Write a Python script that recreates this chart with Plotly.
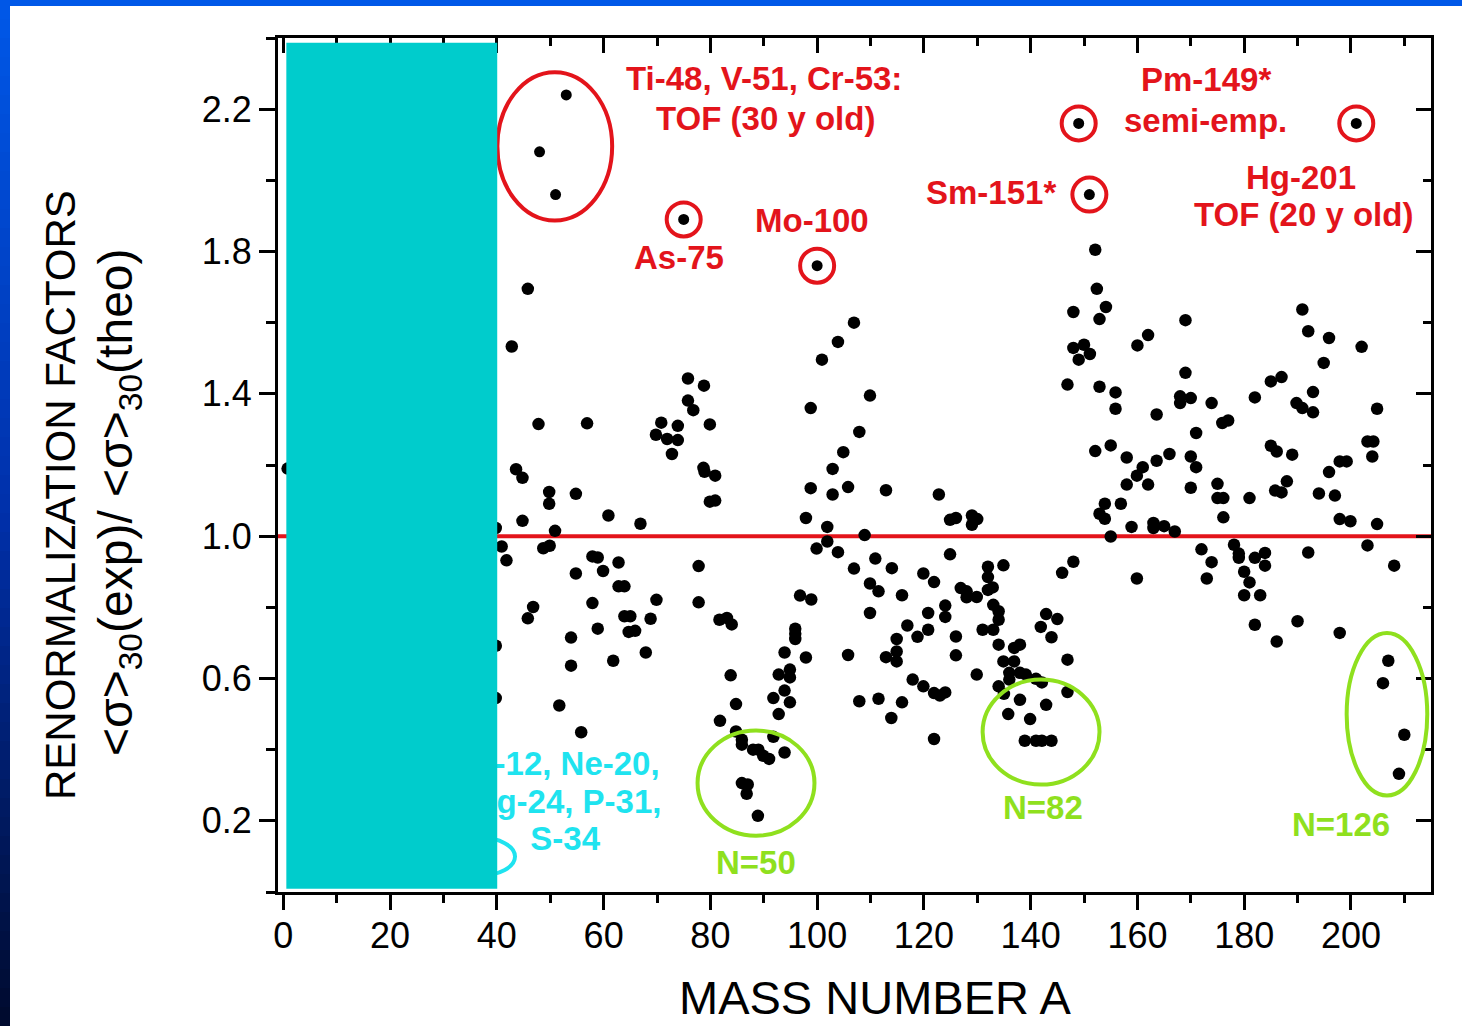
import plotly.graph_objects as go

# ---- data: renormalization factor <sigma>30(exp)/<sigma>30(theo) versus mass number A ----
mass_number = [
    0.8, 39.8, 39.8, 39.8,
    45.8, 42.8, 47.8, 56.9, 70.8, 73.9, 69.8, 71.9, 73.9, 72.8, 75.8, 78.8, 75.8, 76.8, 79.9, 78.7,
    78.9, 80.9, 79.9, 80.9,
    43.6, 44.8, 49.8, 49.8, 54.8, 44.8, 60.9, 66.9, 50.9, 40.9, 41.8, 48.7, 49.9, 57.9, 58.9, 62.8,
    54.8, 59.9, 77.8,
    46.8, 45.8, 57.9, 62.8, 63.9, 69.9, 77.8, 63.9, 65.0, 68.8, 58.9, 64.7, 65.9, 53.9, 67.9, 61.8,
    53.9, 51.7, 55.8,
    81.7, 83.1, 84.0, 83.8, 84.8, 81.8, 84.8, 85.9, 85.9, 88.0, 89.0, 89.9, 91.0, 85.9, 87.0, 86.8,
    88.9, 93.9, 91.8, 92.8, 91.8, 94.9, 93.9, 92.8, 94.9, 94.9, 93.9, 97.9, 95.9, 95.9, 95.9, 96.8,
    98.9,
    98.8, 100.9, 103.9, 106.9, 109.9, 107.9, 104.9, 102.9, 98.8, 102.9, 105.8, 97.9, 101.9, 108.9,
    101.9, 99.9, 103.9, 106.9, 110.9, 109.9, 111.5, 109.9, 105.8, 107.9, 111.5, 112.9, 114.0,
    115.9, 119.9, 121.9, 126.9, 128.0, 128.0, 129.9, 132.0, 132.0, 132.0, 132.9, 134.9, 145.9, 148.0,
    124.9, 122.8, 124.9, 126.0, 129.0, 130.0, 129.0,
    124.0, 124.0, 120.8, 116.9, 120.8, 118.8, 114.9, 114.9, 114.9, 112.9, 126.0, 126.0, 133.0, 134.0,
    134.0, 131.0, 133.0, 134.0, 136.9, 138.0, 134.9, 136.9, 129.9, 136.0, 136.0, 138.0, 139.1, 141.0,
    142.1, 134.0, 135.0, 138.0, 142.9, 135.8, 139.9, 138.9, 141.0, 142.1, 143.9, 142.9, 145.0, 141.9,
    143.9, 146.9, 146.9, 117.9, 119.9, 121.9, 123.0, 124.0, 115.9, 113.9, 121.9,
    152.1, 152.4, 154.1, 152.9, 148.0, 148.0, 150.0, 151.1, 149.0, 146.9, 152.9, 155.9, 155.9, 160.0,
    162.0, 163.6, 152.1, 155.0, 158.0, 161.0, 159.9, 158.0, 162.0, 163.6, 153.9, 152.9, 153.9, 156.9,
    158.9, 163.0, 163.0, 155.0, 159.9,
    169.0, 169.0, 168.0, 168.0, 170.0, 173.9, 171.0, 175.9, 177.0, 182.0, 185.0, 187.0, 190.9, 192.0,
    195.9, 194.9, 202.0, 189.8, 190.9, 192.9, 192.9, 204.9,
    166.0, 170.0, 171.0, 170.0, 175.0, 175.0, 176.1, 176.1, 181.0, 185.0, 186.1, 189.0, 188.0, 185.8,
    187.0, 194.0, 197.0, 195.9, 197.9, 199.2, 203.1, 204.2, 204.0, 204.9, 197.9, 199.9,
    165.0, 167.0, 172.0, 173.9, 173.0, 178.1, 179.0, 179.0, 182.0, 183.9, 183.9, 180.0, 181.0, 180.0,
    183.0, 192.0, 203.1, 208.1, 182.0, 186.1, 190.0, 197.9, 207.0, 206.0, 210.0, 209.0,
]
ratio = [
    1.19, 1.023, 0.692, 0.545,
    1.695, 1.533, 1.315, 1.317, 1.319, 1.310, 1.285, 1.273, 1.270, 1.231, 1.443, 1.423, 1.381, 1.354, 1.314, 1.192,
    1.181, 1.170, 1.097, 1.100,
    1.188, 1.164, 1.124, 1.091, 1.119, 1.043, 1.058, 1.035, 1.015, 0.971, 0.932, 0.966, 0.973, 0.943, 0.940, 0.926,
    0.895, 0.902, 0.916,
    0.801, 0.769, 0.812, 0.859, 0.859, 0.821, 0.814, 0.775, 0.775, 0.768, 0.740, 0.731, 0.734, 0.715, 0.673, 0.650,
    0.636, 0.524, 0.449,
    0.765, 0.770, 0.752, 0.609, 0.528, 0.481, 0.451, 0.428, 0.414, 0.400, 0.400, 0.383, 0.374, 0.306, 0.302, 0.276,
    0.214, 0.392, 0.436, 0.500, 0.545, 0.533, 0.566, 0.611, 0.625, 0.603, 0.673, 0.659, 0.740, 0.726, 0.711, 0.833,
    0.822,
    1.360, 1.496, 1.546, 1.600, 1.395, 1.293, 1.236, 1.189, 1.135, 1.117, 1.138, 1.051, 1.026, 1.003,
    0.985, 0.965, 0.955, 0.909, 0.937, 0.867, 0.845, 0.784, 0.666, 0.536, 0.543, 1.129, 0.910,
    0.834, 0.895, 0.871, 0.854, 0.845, 0.828, 0.829, 0.914, 0.885, 0.849, 0.856, 0.918, 0.897, 0.928,
    0.949, 1.117, 1.046, 1.051, 1.058, 1.048, 1.032,
    0.805, 0.773, 0.784, 0.749, 0.737, 0.717, 0.711, 0.676, 0.648, 0.660, 0.718, 0.665, 0.807, 0.789,
    0.765, 0.737, 0.737, 0.695, 0.686, 0.695, 0.648, 0.648, 0.611, 0.616, 0.597, 0.616, 0.611, 0.599,
    0.589, 0.578, 0.557, 0.540, 0.526, 0.500, 0.486, 0.425, 0.425, 0.425, 0.425, 0.781, 0.767, 0.745,
    0.716, 0.653, 0.562, 0.597, 0.578, 0.559, 0.552, 0.561, 0.533, 0.489, 0.430,
    1.805, 1.695, 1.644, 1.610, 1.630, 1.529, 1.538, 1.512, 1.496, 1.426, 1.420, 1.404, 1.358, 1.536,
    1.565, 1.342, 1.239, 1.255, 1.221, 1.194, 1.170, 1.145, 1.145, 1.212, 1.091, 1.063, 1.049, 1.091,
    1.026, 1.037, 1.023, 0.999, 0.881,
    1.607, 1.459, 1.393, 1.374, 1.388, 1.374, 1.290, 1.318, 1.325, 1.390, 1.435, 1.447, 1.637, 1.576,
    1.557, 1.487, 1.532, 1.374, 1.360, 1.405, 1.348, 1.358,
    1.231, 1.224, 1.194, 1.136, 1.147, 1.107, 1.107, 1.053, 1.107, 1.254, 1.238, 1.229, 1.154, 1.128,
    1.123, 1.120, 1.114, 1.180, 1.210, 1.210, 1.266, 1.266, 1.224, 1.034, 1.048, 1.042,
    1.028, 1.013, 0.963, 0.927, 0.881, 0.976, 0.951, 0.939, 0.939, 0.953, 0.917, 0.900, 0.870, 0.834,
    0.834, 0.954, 0.974, 0.917, 0.751, 0.704, 0.761, 0.728, 0.650, 0.587, 0.442, 0.332,
]

# isotopes singled out in the discussion
flag_isotopes = ["Ti-48", "V-51", "Cr-53", "As-75", "Mo-100", "Pm-149", "Sm-151", "Hg-201"]
flag_mass = [48, 51, 53, 75, 100, 149, 151, 201]
flag_ratio = [2.08, 1.96, 2.24, 1.89, 1.76, 2.16, 1.96, 2.16]
circled = ["As-75", "Mo-100", "Pm-149", "Sm-151", "Hg-201"]

# axis ticks
x_ticks = [0, 20, 40, 60, 80, 100, 120, 140, 160, 180, 200]
y_ticks = [0.2, 0.6, 1.0, 1.4, 1.8, 2.2]
y_tick_labels = ["0.2", "0.6", "1.0", "1.4", "1.8", "2.2"]
reference_level = 1.0

# text labels
red_labels = ["Ti-48, V-51, Cr-53:", "TOF (30 y old)", "As-75", "Mo-100", "Sm-151*",
              "Pm-149*", "semi-emp.", "Hg-201", "TOF (20 y old)"]
red_label_x = [90.1, 90.4, 74.2, 99.1, 132.6, 172.8, 172.8, 190.6, 191.2]
red_label_y = [2.285, 2.175, 1.783, 1.887, 1.965, 2.283, 2.168, 2.007, 1.904]
shell_labels = ["N=50", "N=82", "N=126"]
shell_label_x = [88.6, 142.3, 198.1]
shell_label_y = [0.084, 0.237, 0.189]
light_labels = ["C-12, Ne-20,", "Mg-24, P-31,", "S-34"]
light_label_x = [52.8, 52.8, 52.8]
light_label_y = [0.352, 0.246, 0.141]

RED = "#E3141B"
GREEN = "#8FE01E"
CYAN = "#1FE3EF"
FONT = "Liberation Sans"

fig = go.Figure()

fig.add_trace(go.Scatter(
    x=mass_number, y=ratio, mode="markers",
    marker=dict(color="black", size=12.5, line=dict(width=0)),
    hoverinfo="skip", showlegend=False,
))
fig.add_trace(go.Scatter(
    x=flag_mass, y=flag_ratio, mode="markers", text=flag_isotopes,
    marker=dict(color="black", size=11, line=dict(width=0)),
    hoverinfo="text", showlegend=False,
))
# light-nuclei label (partly hidden under the shaded band)
fig.add_trace(go.Scatter(
    x=light_label_x, y=light_label_y, mode="text", text=["<b>%s</b>" % t for t in light_labels],
    textposition="middle center", textfont=dict(family=FONT, size=33, color=CYAN),
    xaxis="x2", yaxis="y2", hoverinfo="skip", showlegend=False,
))

shapes = []
# reference level
shapes.append(dict(type="line", xref="x", yref="y", x0=-1, x1=215, y0=reference_level, y1=reference_level,
                   line=dict(color=RED, width=4), layer="below"))
# outlier group Ti/V/Cr
shapes.append(dict(type="circle", xref="x", yref="y", x0=40.1, x1=61.6, y0=1.887, y1=2.304,
                   line=dict(color=RED, width=4), layer="above"))
# rings around individual outliers
for name, a, r in zip(flag_isotopes, flag_mass, flag_ratio):
    if name in circled:
        shapes.append(dict(type="circle", xref="x", yref="y", xsizemode="pixel", ysizemode="pixel",
                           xanchor=a, yanchor=r, x0=-17, x1=17, y0=-17, y1=17,
                           line=dict(color=RED, width=4), layer="above"))
# closed neutron shells
for x0, x1, y0, y1 in [(77.6, 99.5, 0.158, 0.454), (131.0, 152.9, 0.302, 0.597), (199.2, 214.3, 0.271, 0.728)]:
    shapes.append(dict(type="circle", xref="x", yref="y", x0=x0, x1=x1, y0=y0, y1=y1,
                       line=dict(color=GREEN, width=4), layer="above"))
# light nuclei ring
shapes.append(dict(type="circle", xref="x", yref="y", x0=30.3, x1=43.4, y0=0.046, y1=0.153,
                   line=dict(color=CYAN, width=4), layer="above"))
# shaded band over the light-mass region
shapes.append(dict(type="rect", xref="x", yref="y", x0=0.56, x1=40.07, y0=0.009, y1=2.387,
                   fillcolor="#00CCCC", line=dict(width=0), layer="above"))

# slide frame: blue strip on top, shaded strip on the left
W, H = 1462, 1026
L, R, T, B = 278, 31, 38, 134
pw, ph = W - L - R, H - T - B


def px_x(p):
    return (p - L) / pw


def px_y(p):
    return (H - B - p) / ph


shapes.append(dict(type="rect", xref="paper", yref="paper", x0=px_x(0), x1=px_x(W), y0=px_y(6), y1=px_y(0),
                   fillcolor="rgb(0,88,232)", line=dict(width=0), layer="above"))
stops = [(0, (0, 88, 232)), (513, (0, 48, 170)), (1026, (0, 10, 45))]
n_seg = 54
for i in range(n_seg):
    yt = i * H / n_seg
    yb = (i + 1) * H / n_seg
    ym = (yt + yb) / 2
    if ym <= stops[1][0]:
        f = ym / stops[1][0]
        c0, c1 = stops[0][1], stops[1][1]
    else:
        f = (ym - stops[1][0]) / (stops[2][0] - stops[1][0])
        c0, c1 = stops[1][1], stops[2][1]
    col = tuple(int(round(c0[k] + f * (c1[k] - c0[k]))) for k in range(3))
    shapes.append(dict(type="rect", xref="paper", yref="paper", x0=px_x(0), x1=px_x(10),
                       y0=px_y(yb + 0.5), y1=px_y(yt), fillcolor="rgb(%d,%d,%d)" % col,
                       line=dict(width=0), layer="above"))

annotations = []
for t, x, y in zip(red_labels, red_label_x, red_label_y):
    annotations.append(dict(text="<b>%s</b>" % t, x=x, y=y, xref="x", yref="y", showarrow=False,
                            font=dict(family=FONT, size=33, color=RED), xanchor="center", yanchor="middle"))
for t, x, y in zip(shell_labels, shell_label_x, shell_label_y):
    annotations.append(dict(text="<b>%s</b>" % t, x=x, y=y, xref="x", yref="y", showarrow=False,
                            font=dict(family=FONT, size=33, color=GREEN), xanchor="center", yanchor="middle"))
# axis titles
annotations.append(dict(text="RENORMALIZATION FACTORS", x=px_x(60), y=px_y(495), xref="paper", yref="paper",
                        showarrow=False, textangle=-90, font=dict(family=FONT, size=42, color="black"),
                        xanchor="center", yanchor="middle"))
annotations.append(dict(text="&lt;σ&gt;<sub>30</sub>(exp)/ &lt;σ&gt;<sub>30</sub>(theo)", x=px_x(119), y=px_y(502),
                        xref="paper", yref="paper", showarrow=False, textangle=-90,
                        font=dict(family=FONT, size=48, color="black"), xanchor="center", yanchor="middle"))
annotations.append(dict(text="MASS NUMBER A", x=px_x(875), y=px_y(998), xref="paper", yref="paper",
                        showarrow=False, font=dict(family=FONT, size=47, color="black"),
                        xanchor="center", yanchor="middle"))

tickfont = dict(family=FONT, size=36, color="black")
common = dict(showgrid=False, zeroline=False, tickcolor="black", tickwidth=3)

fig.update_layout(
    width=W, height=H,
    margin=dict(l=L, r=R, t=T, b=B, pad=0),
    paper_bgcolor="white", plot_bgcolor="white",
    showlegend=False,
    xaxis=dict(range=[-1, 215], tickmode="array", tickvals=x_ticks, ticks="outside", ticklen=15,
               showline=True, linewidth=3, linecolor="black", mirror=True, tickfont=tickfont,
               ticklabelstandoff=-5,
               minor=dict(tickmode="linear", tick0=0, dtick=10, ticks="outside", ticklen=8, tickwidth=3,
                          tickcolor="black", showgrid=False),
               **common),
    yaxis=dict(range=[0, 2.4], tickmode="array", tickvals=y_ticks, ticktext=y_tick_labels, ticks="outside",
               ticklen=16, showline=True, linewidth=3, linecolor="black", mirror=True, tickfont=tickfont,
               minor=dict(tickmode="linear", tick0=0, dtick=0.2, ticks="outside", ticklen=9, tickwidth=3,
                          tickcolor="black", showgrid=False),
               **common),
    xaxis2=dict(range=[-1, 215], overlaying="x", side="top", anchor="y2", tickmode="array", tickvals=x_ticks,
                ticks="inside", ticklen=15, showticklabels=False, showline=False,
                minor=dict(tickmode="linear", tick0=0, dtick=10, ticks="inside", ticklen=8, tickwidth=3,
                           tickcolor="black", showgrid=False),
                **common),
    yaxis2=dict(range=[0, 2.4], overlaying="y", side="right", anchor="x2", tickmode="array", tickvals=y_ticks,
                ticks="inside", ticklen=15, showticklabels=False, showline=False,
                minor=dict(tickmode="linear", tick0=0, dtick=0.2, ticks="inside", ticklen=8, tickwidth=3,
                           tickcolor="black", showgrid=False),
                **common),
    shapes=shapes,
    annotations=annotations,
)

fig.write_html("out.html", config={"displayModeBar": False})
